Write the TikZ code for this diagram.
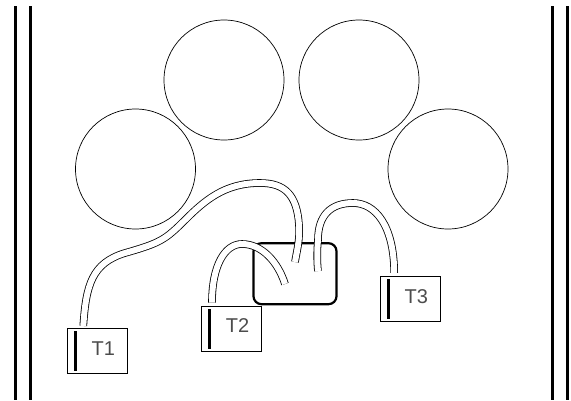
\documentclass[tikz,border=0pt]{standalone}
\usepackage{fontspec}
\setmainfont{Liberation Sans}

\begin{document}
\begin{tikzpicture}
[
    x=1pt, y=-1pt,
    rail/.style={line width=2.6pt},
    hole/.style={draw, circle, line width=0.7pt, minimum size=120pt, inner sep=0pt},
    tbox/.style={draw, line width=0.7pt, minimum width=60pt, minimum height=45pt, inner sep=0pt},
    tname/.style={inner sep=0pt, text=black!70, font=\fontsize{20}{20}\selectfont},
    tbar/.style={line width=2.4pt},
    hub/.style={draw, line width=2.2pt, rounded corners=8pt, minimum width=83pt, minimum height=61pt, inner sep=0pt},
    cable/.style={line width=0.8pt, double=white, double distance=6pt},
]
\useasboundingbox (0,0) rectangle (571,400);

\draw[rail] (15.5,6) -- (15.5,400);
\draw[rail] (30.5,6) -- (30.5,400);
\draw[rail] (552.7,6) -- (552.7,400);
\draw[rail] (567.5,6) -- (567.5,400);

\node[hole] (hole a) at (135.5,169) {};
\node[hole] (hole b) at (224,80) {};
\node[hole] (hole c) at (359,80) {};
\node[hole] (hole d) at (448,169) {};

\node[hub] (box) at (295,273.7) {};

\node[tbox] (t1) at (97.3,351.3) {};
\node[tbox] (t2) at (231.5,329) {};
\node[tbox] (t3) at (410.2,299.2) {};

\foreach \tn/\tlabel in {t1/T1, t2/T2, t3/T3} {
    \node[tname] (\tn name) at ([xshift=6pt,yshift=3pt]\tn.center) {\tlabel};
    \draw[tbar] ([xshift=8.5pt,yshift=-3pt]\tn.north west) -- ([xshift=8.5pt,yshift=3pt]\tn.south west);
}

\coordinate (t1 out) at ([xshift=-14pt,yshift=2.5pt]t1.north);
\coordinate (t2 out) at ([xshift=-19.5pt,yshift=3.5pt]t2.north);
\coordinate (t3 out) at ([xshift=-16pt,yshift=3.5pt]t3.north);
\coordinate (t1 end) at (295,262);
\coordinate (t2 end) at (285,284);
\coordinate (t3 end) at (318,271);

\draw[cable] (t1 out) .. controls (86,285) and (92,263) .. (125,253)
    .. controls (160,243) and (165,240) .. (185,220)
    .. controls (205,200) and (225,183) .. (260,183)
    .. controls (285,183) and (297,195) .. (299,225)
    .. controls (300,240) and (297,250) .. (t1 end);
\draw[cable] (t2 out) .. controls (212,265) and (225,244) .. (242,244)
    .. controls (262,244) and (278,262) .. (t2 end);
\draw[cable] (t3 out) .. controls (394,225) and (375,203) .. (353,203)
    .. controls (331,203) and (318,215) .. (318,240)
    .. controls (317,250) and (317,262) .. (t3 end);
\end{tikzpicture}
\end{document}
